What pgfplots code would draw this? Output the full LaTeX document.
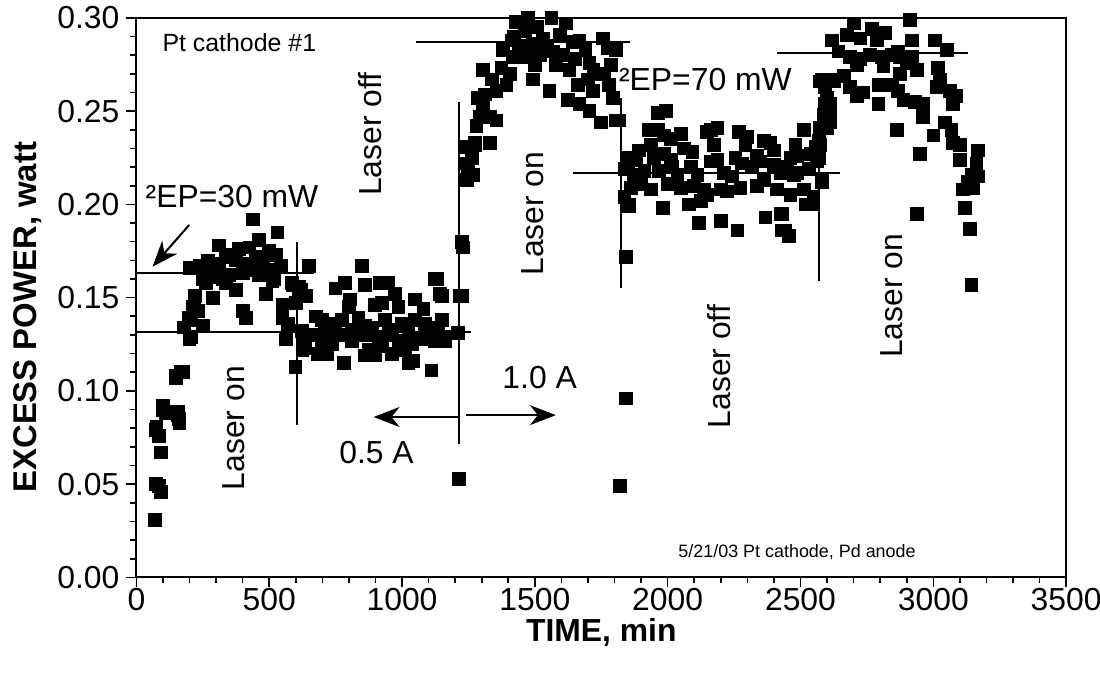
\documentclass[border=0pt]{standalone}
\usepackage{pgfplots}
\pgfplotsset{compat=1.18}
\usepackage{pgfplotstable}
\usepackage{fontspec}
\setmainfont{Liberation Sans}
\usetikzlibrary{arrows.meta}

\pgfplotstableread{
t y
71 0.031
74 0.050
92 0.046
86 0.049
92 0.067
74 0.079
86 0.076
75 0.081
99 0.090
111 0.089
100 0.092
112 0.088
155 0.089
161 0.085
156 0.087
162 0.083
149 0.108
167 0.110
150 0.107
175 0.110
180 0.134
181 0.134
205 0.129
199 0.139
218 0.150
224 0.143
200 0.128
212 0.145
206 0.138
200 0.166
219 0.151
231 0.143
237 0.167
250 0.160
250 0.135
262 0.158
269 0.170
280 0.165
287 0.150
300 0.161
312 0.178
312 0.168
325 0.160
337 0.173
337 0.158
350 0.162
360 0.172
375 0.170
375 0.154
387 0.176
400 0.163
400 0.143
412 0.168
412 0.139
425 0.177
430 0.165
440 0.192
450 0.172
462 0.181
462 0.162
475 0.168
487 0.152
490 0.165
500 0.175
512 0.159
520 0.160
525 0.173
531 0.185
544 0.167
550 0.146
550 0.139
562 0.128
569 0.136
587 0.157
586 0.158
600 0.147
612 0.156
611 0.152
625 0.129
625 0.122
630 0.151
637 0.151
599 0.113
}\segA

\pgfplotstableread{
t y
649 0.167
1130 0.160
749 0.155
786 0.158
861 0.157
918 0.158
949 0.158
974 0.152
1143 0.152
1149 0.151
1218 0.151
805 0.149
799 0.145
899 0.146
924 0.147
986 0.145
1049 0.149
1080 0.144
1149 0.138
636 0.151
618 0.154
674 0.140
699 0.138
749 0.136
774 0.138
836 0.139
861 0.135
886 0.134
936 0.138
949 0.133
999 0.136
1024 0.134
1049 0.138
1086 0.136
1111 0.134
1136 0.132
1161 0.129
1211 0.131
624 0.132
661 0.130
711 0.132
761 0.130
811 0.133
861 0.130
911 0.129
961 0.130
999 0.127
1036 0.128
1080 0.128
1124 0.127
1161 0.127
811 0.127
636 0.123
686 0.120
718 0.120
861 0.119
899 0.119
961 0.120
874 0.122
924 0.124
1036 0.125
1024 0.115
1043 0.116
780 0.115
1111 0.111
986 0.125
1011 0.122
699 0.127
736 0.125
681 0.120
675 0.140
849 0.167
1124 0.160
1215 0.053
1224 0.180
1230 0.177
1224 0.151
}\segB

\pgfplotstableread{
t y
1237 0.222
1243 0.231
1249 0.216
1262 0.227
1274 0.233
1262 0.225
1249 0.220
1243 0.213
1268 0.216
1274 0.232
1280 0.242
1293 0.247
1305 0.248
1330 0.247
1355 0.245
1330 0.233
1287 0.257
1312 0.259
1305 0.252
1305 0.272
1337 0.267
1374 0.273
1405 0.270
1393 0.264
1355 0.261
1380 0.283
1412 0.288
1418 0.279
1420 0.290
1430 0.298
1440 0.285
1474 0.300
1462 0.293
1493 0.286
1500 0.275
1510 0.295
1530 0.289
1518 0.280
1545 0.285
1568 0.282
1562 0.300
1580 0.275
1618 0.297
1593 0.291
1480 0.279
1455 0.279
1493 0.267
1555 0.261
1605 0.280
1643 0.287
1650 0.278
1668 0.288
1690 0.283
1630 0.272
1624 0.256
1705 0.276
1720 0.272
1737 0.270
1755 0.289
1774 0.284
1785 0.275
1805 0.283
1662 0.264
1699 0.267
1668 0.254
1705 0.250
1749 0.244
1718 0.261
1780 0.264
1793 0.257
1805 0.245
1762 0.270
1812 0.245
}\segC

\pgfplotstableread{
t y
1819 0.049
1843 0.172
1843 0.096
1818 0.245
1962 0.249
1993 0.250
1930 0.240
1962 0.240
1987 0.237
2012 0.235
2049 0.238
1937 0.232
1893 0.229
1862 0.225
1949 0.225
1987 0.227
2012 0.224
2062 0.230
2093 0.228
2149 0.239
2187 0.241
2174 0.232
2268 0.239
2299 0.236
2293 0.232
2362 0.234
2387 0.233
2399 0.229
2337 0.226
2481 0.232
2512 0.240
2487 0.226
2537 0.227
2568 0.234
2574 0.241
2587 0.248
1837 0.219
1874 0.216
1912 0.218
1968 0.218
2018 0.220
2037 0.216
2087 0.220
2112 0.216
2162 0.223
2187 0.224
2212 0.217
2243 0.215
2255 0.225
2280 0.222
2318 0.220
2349 0.223
2399 0.221
2424 0.217
2449 0.220
2487 0.217
2531 0.219
2562 0.223
1862 0.209
1899 0.211
1937 0.208
1999 0.211
2049 0.209
2099 0.210
2137 0.208
2149 0.205
2199 0.208
2224 0.207
2274 0.209
2337 0.210
2362 0.213
2412 0.208
2462 0.205
2512 0.208
2549 0.204
2581 0.212
1856 0.200
1981 0.198
2081 0.200
2124 0.202
2518 0.200
2549 0.200
2118 0.190
2199 0.191
2262 0.186
2368 0.193
2431 0.195
2431 0.186
2456 0.183
1880 0.224
1849 0.222
1855 0.225
1837 0.204
1855 0.199
2162 0.240
2437 0.220
2474 0.216
2462 0.225
2556 0.231
2424 0.195
2443 0.186
}\segD

\pgfplotstableread{
t y
2593 0.254
2612 0.249
2600 0.241
2600 0.257
2593 0.263
2574 0.266
2612 0.267
2912 0.299
2700 0.297
2768 0.294
2818 0.292
2618 0.288
2675 0.291
2725 0.289
2787 0.288
2918 0.288
3006 0.288
3050 0.283
2643 0.282
2687 0.279
2725 0.278
2762 0.280
2806 0.279
2843 0.280
2868 0.282
2875 0.279
2918 0.279
2712 0.275
2812 0.274
2900 0.276
2937 0.272
3018 0.273
3025 0.267
2662 0.269
2625 0.266
2581 0.267
2687 0.263
2737 0.260
2712 0.258
2793 0.264
2843 0.264
2868 0.261
2875 0.270
2887 0.256
2931 0.255
2962 0.254
2793 0.254
3062 0.261
3087 0.258
3075 0.254
3012 0.263
2612 0.254
2600 0.248
2612 0.244
2962 0.247
3043 0.244
3068 0.240
3000 0.237
2862 0.240
2574 0.232
2568 0.225
3075 0.233
3100 0.232
2950 0.227
3100 0.224
3168 0.229
3162 0.222
3143 0.216
3168 0.215
3131 0.212
3112 0.208
3150 0.209
2581 0.213
3118 0.198
3137 0.187
2937 0.195
3143 0.157
}\segE

\begin{document}
\begin{tikzpicture}
\useasboundingbox (-68.5pt,-49pt) rectangle (484pt,290pt);
\begin{axis}[
  at={(0,0)}, anchor=south west,
  width=467pt, height=281pt, scale only axis,
  xmin=0, xmax=3500, ymin=0, ymax=0.30,
  xtick={0,500,1000,1500,2000,2500,3000,3500},
  ytick={0,0.05,0.10,0.15,0.20,0.25,0.30},
  minor x tick num=4, minor y tick num=4,
  tick align=outside, xtick pos=bottom, ytick pos=left,
  major tick length=5pt, minor tick length=3pt,
  every tick/.style={black, line width=0.8pt},
  axis line style={line width=1pt, black},
  /pgf/number format/assume math mode=true,
  yticklabel style={/pgf/number format/.cd, fixed, fixed zerofill, precision=2},
  xticklabel style={/pgf/number format/1000 sep={}, yshift=3pt},
  ticklabel style={font=\fontsize{16}{18}\selectfont},
  xlabel={TIME, min},
  ylabel={EXCESS POWER, watt},
  xlabel style={font=\fontsize{16}{18}\selectfont\bfseries, at={(axis description cs:0.5,-0.098)}, anchor=center},
  ylabel style={font=\fontsize{16.5}{18}\selectfont\bfseries, at={(axis description cs:-0.1167,0.465)}, anchor=center},
  clip=false,
]
\addplot[only marks, mark=square*, mark size=3.2pt, black] table[x=t,y=y] {\segA};
\addplot[only marks, mark=square*, mark size=3.2pt, black] table[x=t,y=y] {\segB};
\addplot[only marks, mark=square*, mark size=3.2pt, black] table[x=t,y=y] {\segC};
\addplot[only marks, mark=square*, mark size=3.2pt, black] table[x=t,y=y] {\segD};
\addplot[only marks, mark=square*, mark size=3.2pt, black] table[x=t,y=y] {\segE};

\begin{scope}[line width=1pt, black]
\draw (axis cs:0,0.163) -- (axis cs:668,0.163);
\draw (axis cs:0,0.1315) -- (axis cs:1260,0.1315);
\draw (axis cs:604,0.180) -- (axis cs:604,0.0817);
\draw (axis cs:1215,0.255) -- (axis cs:1215,0.0716);
\draw[-{Stealth[length=13pt,width=10pt,inset=4pt]}] (axis cs:1215,0.086) -- (axis cs:893,0.086);
\draw[-{Stealth[length=13pt,width=10pt,inset=4pt]}] (axis cs:1241,0.087) -- (axis cs:1579,0.087);
\draw (axis cs:1054,0.287) -- (axis cs:1860,0.287);
\draw (axis cs:1823,0.257) -- (axis cs:1823,0.155);
\draw (axis cs:1643,0.217) -- (axis cs:2650,0.217);
\draw (axis cs:2570,0.257) -- (axis cs:2570,0.159);
\draw (axis cs:2412,0.2814) -- (axis cs:3132,0.2814);
\draw[-{Stealth[length=13pt,width=10pt,inset=4pt]}] (axis cs:199,0.189) -- (axis cs:61,0.1666);
\end{scope}

\begin{scope}[font=\fontsize{16}{18}\selectfont]
\node[rotate=90] at (axis cs:368,0.080) {Laser on};
\node[rotate=90] at (axis cs:880,0.2376) {Laser off};
\node[rotate=90] at (axis cs:1493,0.195) {Laser on};
\node[rotate=90] at (axis cs:2194,0.113) {Laser off};
\node[rotate=90] at (axis cs:2843,0.151) {Laser on};
\node at (axis cs:904,0.0668) {0.5 A};
\node at (axis cs:1518,0.107) {1.0 A};
\node at (axis cs:360,0.204) {²EP=30 mW};
\node at (axis cs:2142,0.267) {²EP=70 mW};
\end{scope}
\node[font=\fontsize{12.5}{14}\selectfont, anchor=west, inner sep=0pt] at (axis cs:97,0.287) {Pt cathode \#1};
\node[font=\fontsize{9}{11}\selectfont] at (axis cs:2487,0.0134) {5/21/03 Pt cathode, Pd anode};
\end{axis}
\end{tikzpicture}
\end{document}
